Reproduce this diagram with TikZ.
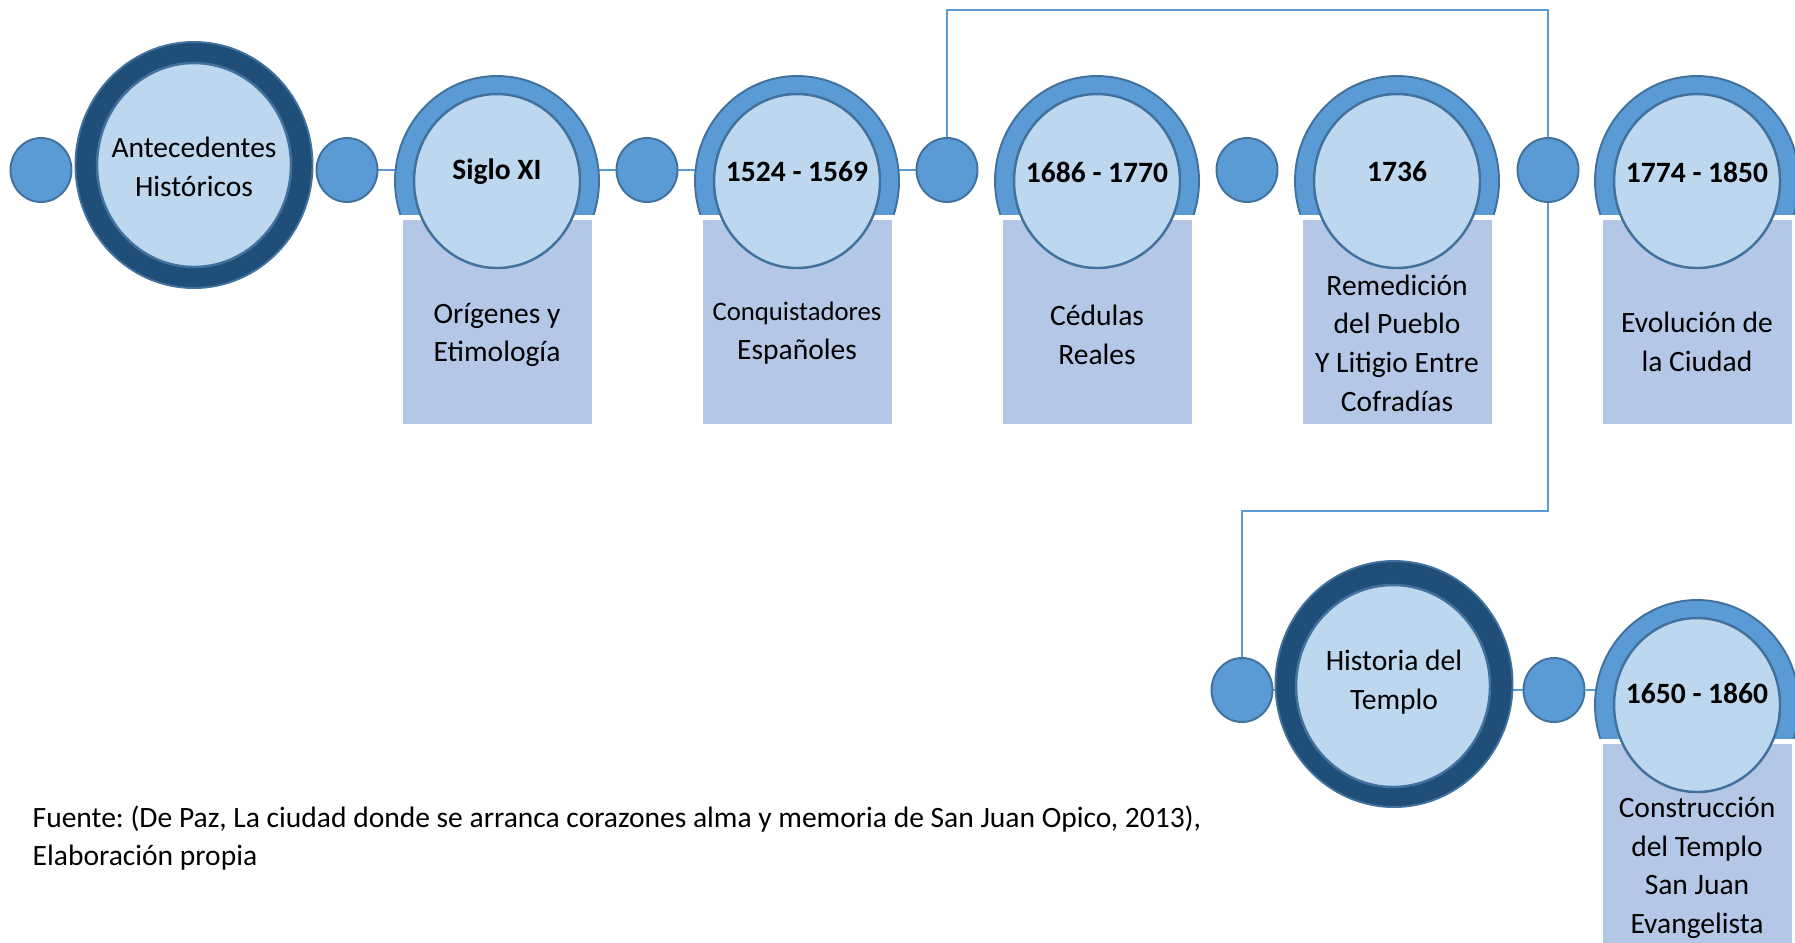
\documentclass[tikz,border=0pt]{standalone}
\usepackage{fontspec}
\setmainfont{Carlito}
\usetikzlibrary{shapes.geometric,backgrounds}
\definecolor{dotblue}{HTML}{5B9BD5}
\definecolor{edgeblue}{HTML}{41719C}
\definecolor{deepblue}{HTML}{1F4E79}
\definecolor{paleblue}{HTML}{BDD7EE}
\definecolor{panelblue}{HTML}{B4C7E7}
\frenchspacing
\begin{document}
\begin{tikzpicture}[x=0.1mm, y=-0.1mm,
    bead/.style={ellipse, draw=edgeblue, fill=dotblue, line width=0.55pt,
                 minimum width=6.1mm, minimum height=6.4mm, inner sep=0},
    ring/.style={ellipse, draw=edgeblue, fill=deepblue, line width=0.55pt,
                 minimum width=23.7mm, minimum height=24.6mm, inner sep=0},
    hub/.style={ellipse, draw=edgeblue, fill=paleblue, line width=0.7pt, inner sep=0},
    halo/.style={ellipse, draw=edgeblue, fill=dotblue, line width=0.55pt,
                 minimum width=20.4mm, minimum height=21mm, inner sep=0},
    panel/.style={fill=panelblue, minimum width=18.9mm, minimum height=20.4mm, inner sep=0},
    note/.style={inner sep=0, align=center, font=\fontsize{8.4}{11}\selectfont},
    link/.style={draw=dotblue, line width=0.45pt}]
  \useasboundingbox (0,0) rectangle (1795,942);
  % small beads on the two rows
  \node[bead] (d1) at (41,170) {};
  \node[bead] (d2) at (347,170) {};
  \node[bead] (d3) at (647,170) {};
  \node[bead] (d4) at (947,170) {};
  \node[bead] (d5) at (1247,170) {};
  \node[bead] (d6) at (1548,170) {};
  \node[bead] (d7) at (1242,690) {};
  \node[bead] (d8) at (1554,690) {};
  % the two titles
  \node[ring] (antring) at (194,165) {};
  \node[hub, minimum width=19.4mm, minimum height=20.4mm] (ant) at (194,165) {};
  \node[note] (antlbl) at (194,167) {Antecedentes\\Históricos};
  \node[ring] (temring) at (1394,684) {};
  \node[hub, minimum width=19.4mm, minimum height=20.2mm] (tem) at (1393,686) {};
  \node[note] (temlbl) at (1394,682) {Historia del\\Templo};
  % dated events
  \foreach \x/\y/\id/\yr/\ly/\txt/\ty in {
      497/181/sig/Siglo XI/172/{Orígenes y\\Etimología}/335,
      797/181/con/1524 - 1569/172/{\fontsize{7.6}{10.6}\selectfont Conquistadores\\Españoles}/333,
      1097/181/ced/1686 - 1770/172/{Cédulas\\Reales}/335,
      1397/181/rem/1736/172/{Remedición\\del Pueblo\\Y Litigio Entre\\Cofradías}/343,
      1697/181/evo/1774 - 1850/172/{Evolución de\\la Ciudad}/342,
      1697/705/cons/1650 - 1860/693/{Construcción\\del Templo\\San Juan\\Evangelista}/868} {
    \begin{scope}
      \clip ({\x-120},{\y-120}) rectangle ({\x+120},{\y+33});
      \node[halo] (h\id) at (\x,\y) {};
    \end{scope}
    \node[panel, anchor=north] (p\id) at (\x,{\y+38}) {};
    \node[hub, minimum width=16.6mm, minimum height=17.4mm] (e\id) at (\x,\y) {};
    \node[note, font=\fontsize{8.4}{11}\bfseries] (y\id) at (\x,\ly) {\yr};
    \node[note] (t\id) at (\x,\ty) {\txt};
  }
  \node[note, align=left, anchor=north west] (src) at (32,805)
    {Fuente: (De Paz, La ciudad donde se arranca corazones alma y memoria de San Juan Opico, 2013),\\Elaboración propia};
  % connectors
  \coordinate (up) at (947,10);
  \coordinate (down) at (1548,511);
  \begin{scope}[on background layer]
    \draw[link] (d2) -- (d4);
    \draw[link] (d7) -- (d8) -- (d8 -| econs);
    \draw[link] (d4.north) -- (up) -| (d6.north);
    \draw[link] (d6.south) -- (down) -| (d7.north);
  \end{scope}
\end{tikzpicture}
\end{document}
